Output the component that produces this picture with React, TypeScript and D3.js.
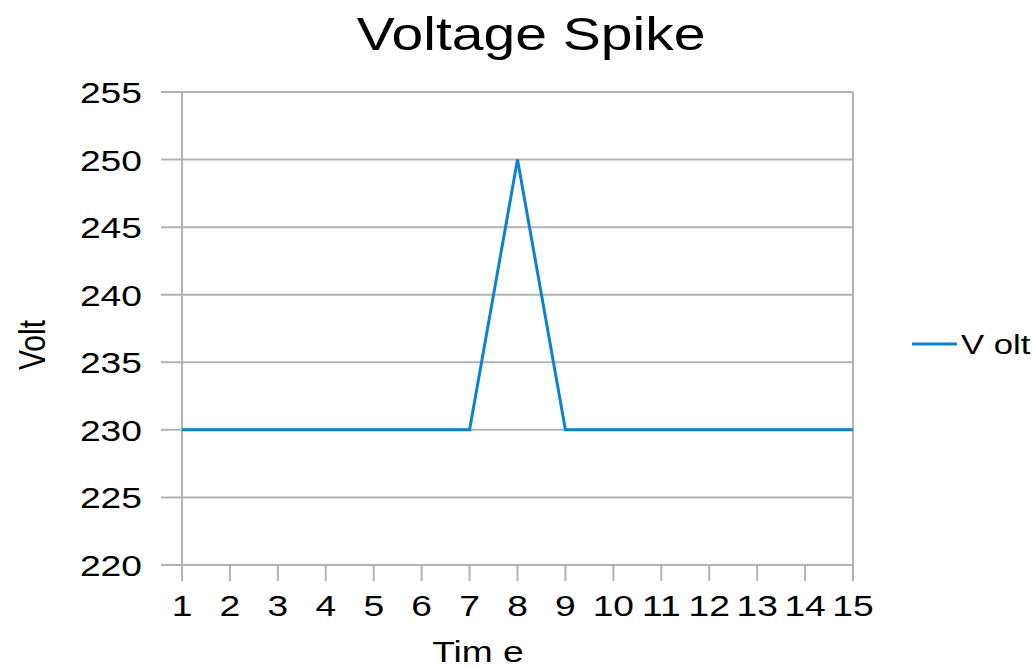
import React, {useEffect, useRef} from 'react'
import * as d3 from 'd3'

const times = [1, 2, 3, 4, 5, 6, 7, 8, 9, 10, 11, 12, 13, 14, 15]
const volts = [230, 230, 230, 230, 230, 230, 230, 250, 230, 230, 230, 230, 230, 230, 230]
const yTicks = [220, 225, 230, 235, 240, 245, 250, 255]
const seriesName = 'Volt'

const App = () => {
  const ref = useRef<SVGSVGElement>(null)

  useEffect(() => {
    const width = 1034
    const height = 667
    const margin = {top: 92, right: 181, bottom: 102, left: 182}
    const grid = '#b3b3b3'
    const color = '#0a82cf'
    const stretch = 1.24
    const font = '"Liberation Sans", Arial, sans-serif'

    const x = d3.scaleLinear()
      .domain([1, 15])
      .range([margin.left, width - margin.right])

    const y = d3.scaleLinear()
      .domain([220, 255])
      .range([height - margin.bottom, margin.top])

    const svg = d3.select(ref.current)
    svg.selectAll('*').remove()
    svg.attr('viewBox', [0, 0, width, height])
      .attr('font-family', font)

    // text that is a bit wider than the font, like the source image
    const label = (tx, ty, str, size, anchor = 'middle', rotate = 0) =>
      svg.append('text')
        .attr('transform', `translate(${tx},${ty}) rotate(${rotate}) scale(${rotate ? 1 : stretch},${rotate ? stretch : 1})`)
        .attr('text-anchor', anchor)
        .attr('font-size', size)
        .attr('fill', '#000')
        .text(str)

    // gridlines + y ticks
    svg.append('g')
      .selectAll('line')
      .data(yTicks)
      .join('line')
      .attr('x1', margin.left - 21)
      .attr('x2', width - margin.right)
      .attr('y1', d => y(d))
      .attr('y2', d => y(d))
      .attr('stroke', grid)
      .attr('stroke-width', 2)

    yTicks.forEach(t => label(142, y(t) + 11, String(t), 30, 'end'))

    // y axis + right border
    svg.append('line')
      .attr('x1', x(1)).attr('x2', x(1))
      .attr('y1', y(255)).attr('y2', y(220) + 16)
      .attr('stroke', grid).attr('stroke-width', 2)
    svg.append('line')
      .attr('x1', x(15)).attr('x2', x(15))
      .attr('y1', y(255)).attr('y2', y(220) + 16)
      .attr('stroke', grid).attr('stroke-width', 2)

    // x ticks
    svg.append('g')
      .selectAll('line')
      .data(times)
      .join('line')
      .attr('x1', d => x(d))
      .attr('x2', d => x(d))
      .attr('y1', y(220))
      .attr('y2', y(220) + 16)
      .attr('stroke', grid)
      .attr('stroke-width', 2)

    times.forEach(t => label(x(t), 616, String(t), 30))

    // series
    const line = d3.line<number>()
      .x((d, i) => x(times[i]))
      .y(d => y(d))

    svg.append('path')
      .datum(volts)
      .attr('d', line)
      .attr('fill', 'none')
      .attr('stroke', color)
      .attr('stroke-width', 3)

    // titles
    label(531, 50, 'Voltage Spike', 46)
    label(478, 662, 'Tim e', 30)
    label(45, 345, 'Volt', 30, 'middle', -90)

    // legend
    svg.append('line')
      .attr('x1', 912).attr('x2', 957)
      .attr('y1', 344).attr('y2', 344)
      .attr('stroke', color).attr('stroke-width', 3)
    label(961, 354, 'V olt', 28, 'start')
  }, [])

  return <svg ref={ref} width={1034} height={667}
    style={{position: 'absolute', left: 0, top: 0, background: '#fff'}} />
}

export default App
